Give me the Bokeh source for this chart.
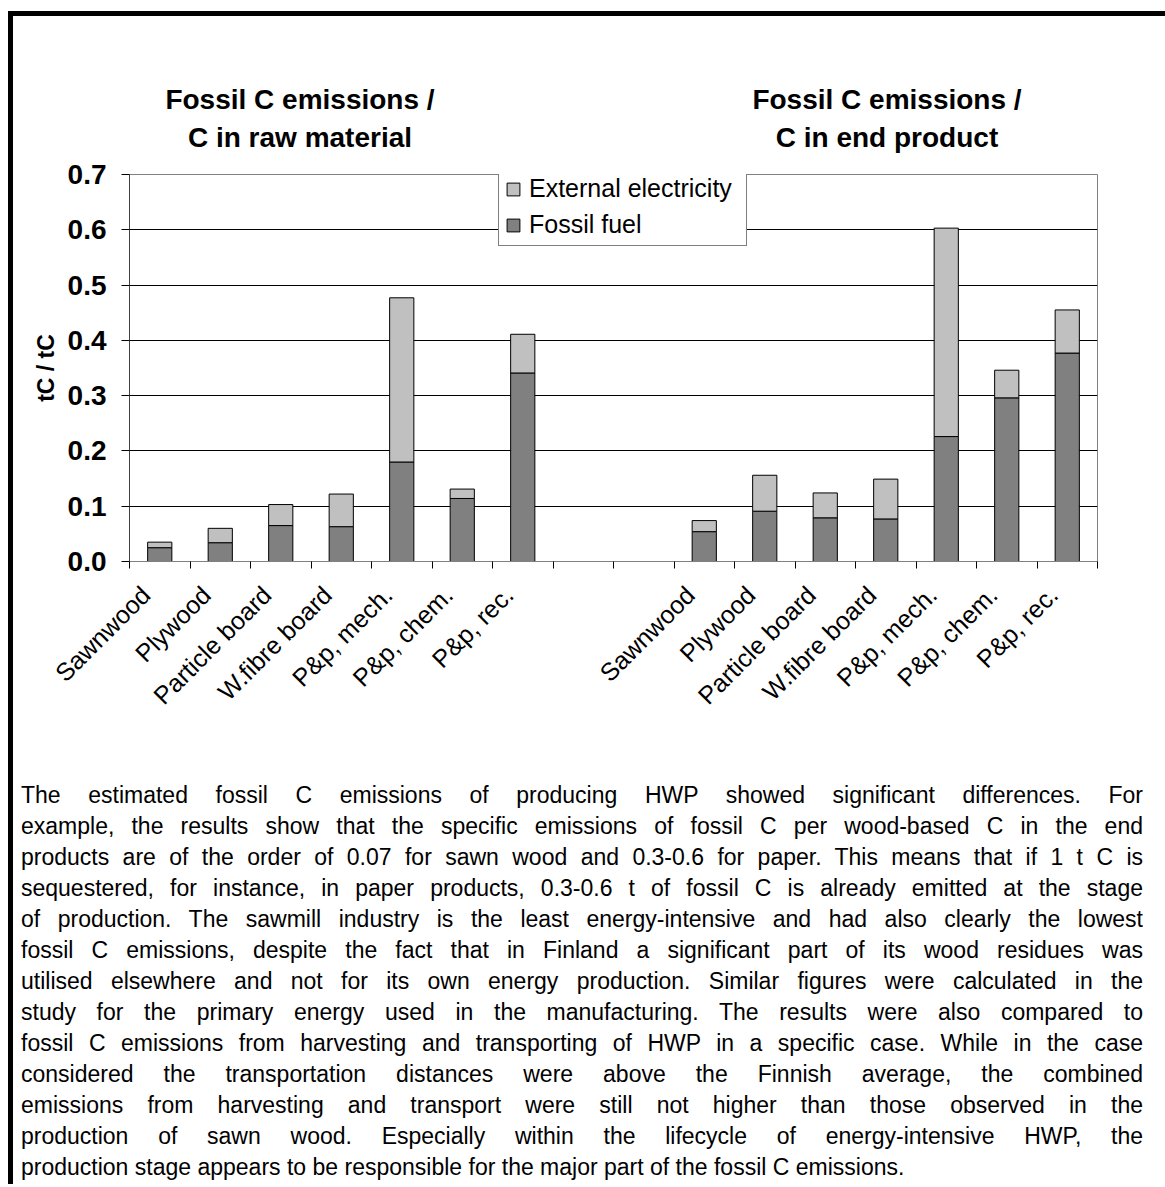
import math

from bokeh.embed import file_html
from bokeh.layouts import column, row
from bokeh.models import (ColumnDataSource, Div, FixedTicker, Legend,
                          LegendItem, NumeralTickFormatter, Range1d, Spacer)
from bokeh.plotting import figure
from bokeh.resources import INLINE

# Product categories (same order in both panels)
products = ["Sawnwood", "Plywood", "Particle board", "W.fibre board",
            "P&p, mech.", "P&p, chem.", "P&p, rec."]

# Fossil C emissions per C in raw material (tC / tC)
raw_fossil_fuel = [0.025, 0.034, 0.065, 0.063, 0.180, 0.114, 0.341]
raw_electricity = [0.010, 0.026, 0.038, 0.059, 0.297, 0.017, 0.070]

# Fossil C emissions per C in end product (tC / tC)
end_fossil_fuel = [0.054, 0.091, 0.079, 0.077, 0.226, 0.296, 0.377]
end_electricity = [0.020, 0.065, 0.045, 0.072, 0.377, 0.050, 0.078]

series_names = ["External electricity", "Fossil fuel"]
panel_titles = [["Fossil C emissions /", "C in raw material"],
                ["Fossil C emissions /", "C in end product"]]
y_ticks = [0.0, 0.1, 0.2, 0.3, 0.4, 0.5, 0.6, 0.7]

paragraph_lines = [
    "The estimated fossil C emissions of producing HWP showed significant differences. For",
    "example, the results show that the specific emissions of fossil C per wood-based C in the end",
    "products are of the order of 0.07 for sawn wood and 0.3-0.6 for paper. This means that if 1 t C is",
    "sequestered, for instance, in paper products, 0.3-0.6 t of fossil C is already emitted at the stage",
    "of production. The sawmill industry is the least energy-intensive and had also clearly the lowest",
    "fossil C emissions, despite the fact that in Finland a significant part of its wood residues was",
    "utilised elsewhere and not for its own energy production. Similar figures were calculated in the",
    "study for the primary energy used in the manufacturing. The results were also compared to",
    "fossil C emissions from harvesting and transporting of HWP in a specific case. While in the case",
    "considered the transportation distances were above the Finnish average, the combined",
    "emissions from harvesting and transport were still not higher than those observed in the",
    "production of sawn wood. Especially within the lifecycle of energy-intensive HWP, the",
    "production stage appears to be responsible for the major part of the fossil C emissions.",
]

FONT = "Liberation Sans"
FOSSIL_COLOR = "#808080"
ELEC_COLOR = "#C0C0C0"

# Two groups of seven slots on one shared axis, two empty slots between them
group_starts = [0, 9]
n_slots = 16

xs, fossil_top, total_top, slot_names = [], [], [], []
for start, fuel, elec in zip(group_starts,
                             [raw_fossil_fuel, end_fossil_fuel],
                             [raw_electricity, end_electricity]):
    for i, (f, e) in enumerate(zip(fuel, elec)):
        xs.append(start + i + 0.5)
        fossil_top.append(f)
        total_top.append(f + e)
        slot_names.append(products[i])

source = ColumnDataSource(dict(x=xs, fossil=fossil_top, total=total_top))

p = figure(width=1152, height=623,
           x_range=Range1d(0, n_slots), y_range=Range1d(0, 0.7),
           output_backend="svg", toolbar_location=None,
           min_border_left=116, min_border_right=68,
           min_border_top=17, min_border_bottom=219)
p.background_fill_color = "white"
p.border_fill_color = "white"
p.outline_line_color = "#808080"
p.outline_line_width = 1

r_fossil = p.vbar(x="x", width=0.4, bottom=0, top="fossil", source=source,
                  fill_color=FOSSIL_COLOR, line_color="black", line_width=1)
r_elec = p.vbar(x="x", width=0.4, bottom="fossil", top="total", source=source,
                fill_color=ELEC_COLOR, line_color="black", line_width=1)

# Grid: horizontal lines only
p.xgrid.visible = False
p.ygrid.ticker = FixedTicker(ticks=y_ticks[1:-1])
p.ygrid.grid_line_color = "black"
p.ygrid.grid_line_width = 1

# Y axis
yax = p.yaxis[0]
yax.ticker = FixedTicker(ticks=y_ticks)
yax.formatter = NumeralTickFormatter(format="0.0")
yax.axis_line_color = "#404040"
yax.major_tick_line_color = "black"
yax.major_tick_out = 8
yax.major_tick_in = 0
yax.minor_tick_line_color = None
yax.major_label_text_font = FONT
yax.major_label_text_font_size = "28px"
yax.major_label_text_font_style = "bold"
yax.major_label_text_color = "black"
yax.major_label_standoff = 15
yax.axis_label = "tC / tC"
yax.axis_label_text_font = FONT
yax.axis_label_text_font_size = "23px"
yax.axis_label_text_font_style = "bold"
yax.axis_label_text_color = "black"
yax.axis_label_standoff = 6

# X axis: category names under the bars, tick marks on slot boundaries
label_ticks = [round(x - 0.23, 2) for x in xs]
xax = p.xaxis[0]
xax.ticker = FixedTicker(ticks=label_ticks, minor_ticks=list(range(n_slots + 1)))
xax.major_label_overrides = {t: name for t, name in zip(label_ticks, slot_names)}
xax.major_tick_line_color = None
xax.minor_tick_line_color = "black"
xax.minor_tick_out = 7
xax.minor_tick_in = 0
xax.axis_line_color = "#808080"
xax.major_label_orientation = math.pi / 4
xax.major_label_text_font = FONT
xax.major_label_text_font_size = "25px"
xax.major_label_text_color = "black"
xax.major_label_standoff = 22

legend = Legend(items=[LegendItem(label=series_names[0], renderers=[r_elec]),
                       LegendItem(label=series_names[1], renderers=[r_fossil])],
                location=(369, 315))
legend.border_line_color = "black"
legend.border_line_width = 1
legend.background_fill_color = "white"
legend.background_fill_alpha = 1
legend.label_text_font = FONT
legend.label_text_font_size = "25px"
legend.label_text_color = "black"
legend.label_width = 211
legend.glyph_width = 16
legend.glyph_height = 16
legend.label_standoff = 8
legend.padding = 6
legend.spacing = 7
legend.margin = 0
p.add_layout(legend)


def title_div(lines, width):
    body = "<br>".join(lines)
    return Div(text=(f'<div style="font-family:\'{FONT}\';font-size:28px;font-weight:bold;'
                     f'line-height:38px;text-align:center;color:black;width:{width}px;">'
                     f'{body}</div>'),
               width=width, height=76, margin=0)


# Titles centred above each panel (content starts at x = 13)
title_w = 420
left_centre, right_centre = 300, 887
titles = row(
    Spacer(width=left_centre - title_w // 2 - 13, height=76, margin=0),
    title_div(panel_titles[0], title_w),
    Spacer(width=(right_centre - left_centre) - title_w, height=76, margin=0),
    title_div(panel_titles[1], title_w),
)

line_html = []
for i, ln in enumerate(paragraph_lines):
    align = "left" if i == len(paragraph_lines) - 1 else "justify"
    line_html.append(
        f'<div style="text-align:{align};text-align-last:{align};white-space:nowrap;">'
        f'{ln.replace("&", "&amp;")}</div>'
    )
para_html = (f'<div style="font-family:\'{FONT}\';font-size:23px;line-height:31px;'
             f'color:black;width:1122px;">' + "".join(line_html) + "</div>")
para = Div(text=para_html, width=1122, height=403, margin=0)

top_bar = Div(text="", width=1157, height=5, margin=0,
              styles={"background-color": "black"})
side_bar = Div(text="", width=5, height=1168, margin=0,
               styles={"background-color": "black"})

content = column(
    Spacer(width=10, height=65, margin=0),
    titles,
    p,
    row(Spacer(width=8, height=10, margin=0), para),
)

layout = column(
    Spacer(width=10, height=11, margin=0),
    row(Spacer(width=8, height=5, margin=0), top_bar),
    row(Spacer(width=8, height=10, margin=0), side_bar, content),
)

open("out.html", "w").write(file_html(layout, INLINE))
